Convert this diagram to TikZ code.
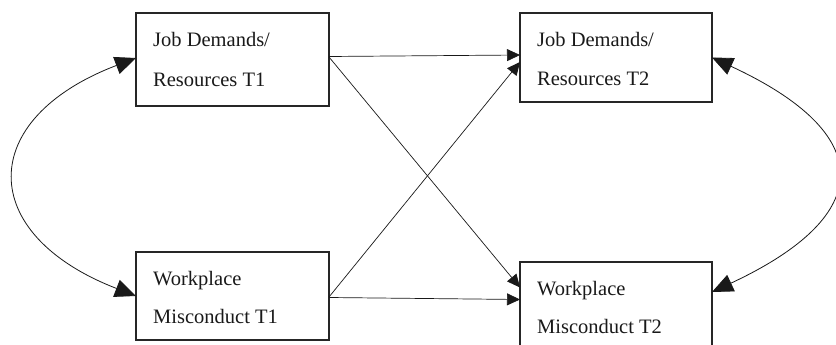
\documentclass[tikz,border=0pt]{standalone}
\usepackage{fontspec}
\setmainfont{Liberation Serif}
\usetikzlibrary{arrows.meta}
\begin{document}
\begin{tikzpicture}[x=1pt,y=-1pt,
  box/.style={draw=black!85,line width=1.3pt,rectangle,inner sep=0pt,outer sep=0pt},
  lbl/.style={anchor=base west,inner sep=0pt,text=black!90,font=\fontsize{20.5}{24}\selectfont},
  conn/.style={draw=black!90,line width=0.7pt,-{Triangle[length=13pt,width=12pt]}},
  corr/.style={draw=black!90,line width=0.8pt,{Triangle[length=21pt,width=18pt]}-{Triangle[length=21pt,width=18pt]}}]
\useasboundingbox (0,0) rectangle (836,345);
\begin{scope}
\clip (0,0) rectangle (836,345);
\node[box,minimum width=193pt,minimum height=93pt] (jd1) at (232.5,59.5) {};
\node[box,minimum width=192pt,minimum height=89pt] (jd2) at (616,57.5) {};
\node[box,minimum width=193pt,minimum height=88pt] (wm1) at (232.5,296) {};
\node[box,minimum width=192pt,minimum height=93pt] (wm2) at (616,308.5) {};
\end{scope}
\node[lbl] (jd1a) at (153,47) {Job Demands/};
\node[lbl] (jd1b) at (153,87) {Resources T1};
\node[lbl] (jd2a) at (537,47) {Job Demands/};
\node[lbl] (jd2b) at (537,85) {Resources T2};
\node[lbl] (wm1a) at (153,285) {Workplace};
\node[lbl] (wm1b) at (153,323) {Misconduct T1};
\node[lbl] (wm2a) at (537,295) {Workplace};
\node[lbl] (wm2b) at (537,333) {Misconduct T2};
\draw[conn] ([yshift=3pt]jd1.east) -- ([yshift=2.5pt]jd2.west);
\draw[conn] ([yshift=2.5pt]jd1.east) -- ([yshift=21pt]wm2.west);
\draw[conn] ([yshift=-1pt]wm1.east) -- ([yshift=-4.5pt]jd2.west);
\draw[conn] ([yshift=-1.5pt]wm1.east) -- ([yshift=9pt]wm2.west);
\draw[corr] ([yshift=1.5pt]jd1.west) .. controls (-24,119) and (-24,234) .. (wm1.west);
\draw[corr] (jd2.east) .. controls (877,134) and (877,215) .. ([yshift=16.5pt]wm2.east);
\end{tikzpicture}
\end{document}
